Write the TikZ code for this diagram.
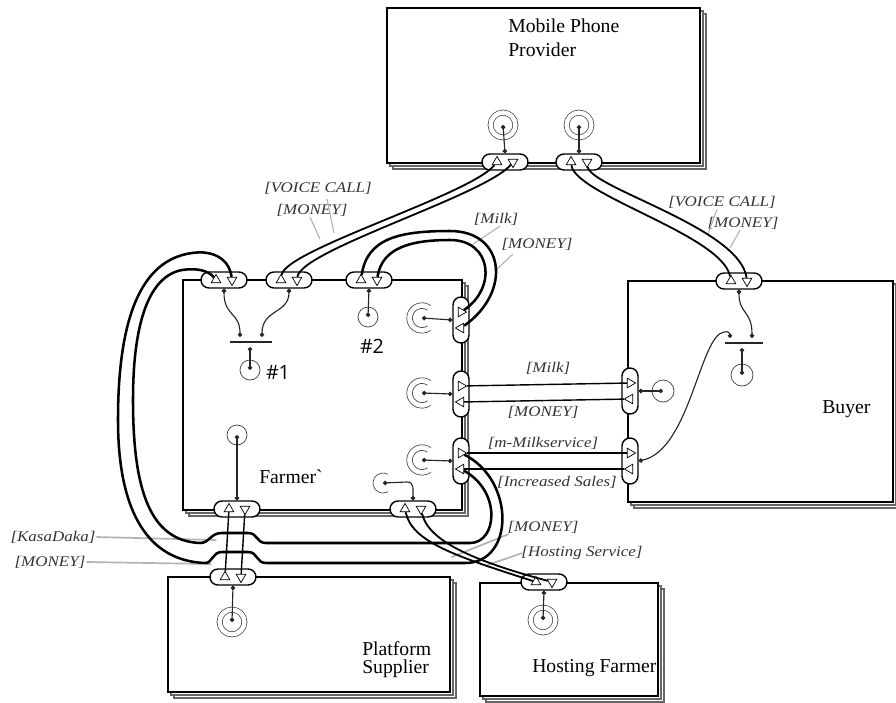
\documentclass[tikz,border=0pt]{standalone}
\usepackage{fontspec}
\setmainfont{Liberation Serif}
\newfontfamily\lblfont{Liberation Serif}[FakeStretch=1.15]
\newfontfamily\numfont{Open Sans}
\usetikzlibrary{arrows.meta,positioning,fit,shadows,shapes.geometric}

\begin{document}
\begin{tikzpicture}[
    x=0.25mm, y=-0.25mm,
    actor/.style={draw, line width=1.1pt, fill=white, inner sep=0pt,
      double copy shadow={shadow xshift=0.75mm, shadow yshift=-0.75mm,
        draw=black!60, line width=0.8pt, fill=white}},
    albl/.style={font=\fontsize{14}{16}\selectfont, inner sep=0pt},
    numl/.style={font=\numfont\fontsize{14}{16}\selectfont, inner sep=0pt},
    vl/.style={font=\lblfont\itshape\fontsize{10.5}{12}\selectfont, inner sep=0.5pt, text=black!80},
    iface/.style={draw, fill=white, line width=1pt, rounded corners=2mm,
      minimum width=11.5mm, minimum height=4mm, inner sep=0pt},
    vface/.style={iface, minimum width=4mm, minimum height=11.5mm},
    pup/.style={regular polygon, regular polygon sides=3, draw, fill=white,
      line width=0.5pt, minimum size=2.8mm, inner sep=0pt},
    pdn/.style={pup, shape border rotate=180},
    prt/.style={pup, shape border rotate=-90},
    plt/.style={pup, shape border rotate=90},
    stim/.style={circle, draw=black!75, line width=0.5pt, minimum size=5mm, inner sep=0pt},
    stimd/.style={stim, double=white, double distance=1.1mm, minimum size=6.2mm},
    hole/.style={circle, minimum size=5mm, inner sep=0pt},
    arcl/.style={draw=black!70, line width=0.5pt},
    andbar/.style={fill=black!85, minimum height=0.8pt, minimum width=10.5mm, inner sep=0pt},
    sl/.style={{Circle[length=1.1mm]}-{Circle[length=1.1mm]}, line width=0.8pt, draw=black!85},
    vt/.style={line width=1.3pt},
    vloop/.style={line width=1.8pt},
    ld/.style={draw=black!30, line width=0.8pt},
  ]
  \useasboundingbox (0,0) rectangle (896,703);

  \node[actor, fit={(387,8) (700,163)}] (mpp) {};
  \node[actor, fit={(183,280) (462,510)}] (farmer) {};
  \node[actor, fit={(628,281) (893,502)}] (buyer) {};
  \node[actor, fit={(168,577) (450,692)}] (supplier) {};
  \node[actor, fit={(480,583) (658,696)}] (hosting) {};

  \node[albl, anchor=base west] (mppl) at (508,32) {Mobile Phone};
  \node[albl, anchor=base west] (mppl2) at (508,56) {Provider};
  \node[albl, anchor=base west] (farmerl) at (259,483) {Farmer\textasciigrave};
  \node[albl, anchor=base west] (buyerl) at (822,413) {Buyer};
  \node[albl, anchor=base west] (supl) at (362,655) {Platform};
  \node[albl, anchor=base west] (supl2) at (362,673) {Supplier};
  \node[albl, anchor=base west] (hostl) at (532,672) {Hosting Farmer};

  \foreach \n/\x/\y in {mIa/505/162, mIb/579/162, fI1/224/280, fI2/289/280,
      fI3/369/280, fI7/237/509, fI8/413/509, bI1/739/281, sI/233/577, hI/544/582}{
    \node[iface] (\n) at (\x,\y) {};
    \node[pup, xshift=-2mm] (\n-u) at (\n) {};
    \node[pdn, xshift=2mm] (\n-d) at (\n) {};
  }
  \foreach \n/\x/\y in {fI4/461/320, fI5/461/394, fI6/461/461, bI2/630/391, bI3/630/461}{
    \node[vface] (\n) at (\x,\y) {};
    \node[prt, yshift=2mm] (\n-r) at (\n) {};
    \node[plt, yshift=-2mm] (\n-l) at (\n) {};
  }

  \node[stimd] (mS1) at (503,125) {};
  \node[stimd] (mS2) at (579,125) {};
  \node[stimd] (sS) at (232,622) {};
  \node[stimd] (hS) at (543,620) {};
  \node[stim] (fS1) at (250,370) {};
  \node[stim] (fS2) at (368,317) {};
  \node[stim] (fS3) at (237,435) {};
  \node[stim, minimum size=5.5mm] (bS) at (742,375) {};
  \node[stim, minimum size=5.5mm] (bE) at (663,391) {};
  \node[hole] (fE1) at (422,318) {};
  \node[hole] (fE2) at (422,393) {};
  \node[hole] (fE3) at (422,460) {};
  \node[hole] (fE4) at (383,483) {};
  \foreach \e in {fE1,fE2,fE3}{
    \draw[arcl] (\e.center) ++(55:3.8mm) arc[start angle=55, end angle=305, radius=3.8mm];
    \draw[arcl] (\e.center) ++(55:2.4mm) arc[start angle=55, end angle=305, radius=2.4mm];
  }
  \draw[arcl] (fE4.center) ++(60:2.5mm) arc[start angle=60, end angle=300, radius=2.5mm];

  \node[andbar] (fAnd) at (251,342) {};
  \node[andbar, minimum width=9.5mm] (bAnd) at (744,343) {};
  \coordinate (fA1) at (240,337);
  \coordinate (fA2) at (262,337);
  \coordinate (fA0) at (250,347);
  \coordinate (bA1) at (730,338);
  \coordinate (bA2) at (752,338);
  \coordinate (bA0) at (742,348);
  \node[numl] (n1) at (278,372) {\#1};
  \node[numl] (n2) at (372,346) {\#2};

  \node[vl] (lV1) at (318,188) {[VOICE CALL]};
  \node[vl] (lM1) at (312,210) {[MONEY]};
  \node[vl] (lV2) at (722,202) {[VOICE CALL]};
  \node[vl] (lM2) at (743,223) {[MONEY]};
  \node[vl] (lMk1) at (496,219) {[Milk]};
  \node[vl] (lM3) at (537,244) {[MONEY]};
  \node[vl] (lMk2) at (548,368) {[Milk]};
  \node[vl] (lM4) at (543,412) {[MONEY]};
  \node[vl] (lMS) at (543,443) {[m-Milkservice]};
  \node[vl] (lIS) at (557,482) {[Increased Sales]};
  \node[vl] (lKD) at (53,537) {[KasaDaka]};
  \node[vl] (lM5) at (50,562) {[MONEY]};
  \node[vl] (lM6) at (543,527) {[MONEY]};
  \node[vl] (lHS) at (582,553) {[Hosting Service]};

  \draw[ld] (lM1.south) ++(-2,0) -- ++(10,22);
  \draw[ld] (lV1.south) ++(9,4) -- ++(7,34);
  \draw[ld] (lV2.south) ++(-5,0) -- ++(-9,25);
  \draw[ld] (lM2.south) ++(-3,0) -- ++(-10,18);
  \draw[ld] (lMk1.south) ++(4,0) -- ++(-27,18);
  \draw[ld] (lM3.south) ++(-24,3) -- ++(-16,15);
  \draw[ld, line width=1.2pt] (lKD.east) -- ++(120,3);
  \draw[ld, line width=1.2pt] (lM5.east) -- ++(125,2);
  \draw[ld, line width=1.2pt] (lM6.south west) ++(2,0) -- ++(-57,23);
  \draw[ld, line width=1.2pt] (lHS.west) ++(2,0) -- ++(-35,12);

  \draw[vt] (fI2-u) .. controls (285,250) and (470,195) .. (mIa-u);
  \draw[vt] (fI2-d) .. controls (301,250) and (486,195) .. (mIa-d);
  \draw[vt] (mIb-u) .. controls (575,195) and (722,235) .. (bI1-u);
  \draw[vt] (mIb-d) .. controls (591,188) and (740,228) .. (bI1-d);
  \draw[vloop] (fI3-u) .. controls (367,238) and (400,231) .. (450,231)
    .. controls (505,231) and (512,292) .. (fI4-l);
  \draw[vloop] (fI3-d) .. controls (382,248) and (410,240) .. (450,240)
    .. controls (492,240) and (497,288) .. (fI4-r);
  \draw[vt, line width=1pt] (fI5-r) -- (bI2-r);
  \draw[vt, line width=1pt] (fI5-l) -- (bI2-l);
  \draw[vt, line width=1pt] (fI6-r) -- (bI3-r);
  \draw[vt, line width=1pt] (fI6-l) -- (bI3-l);
  \draw[vt, line width=1pt] (fI7-u) -- (sI-u);
  \draw[vt, line width=1pt] (fI7-d) -- (sI-d);
  \draw[vt] (fI8-u) .. controls (412,542) and (455,556) .. (hI-u);
  \draw[vt] (fI8-d) .. controls (428,540) and (470,560) .. (hI-d);
  \draw[vloop] (fI1-d) .. controls (229,258) and (212,250) .. (192,253)
    .. controls (140,260) and (118,320) .. (118,420)
    .. controls (118,515) and (150,561) .. (205,563)
    .. controls (213,563) and (212,552) .. (222,552) -- (248,552)
    .. controls (258,552) and (256,563) .. (266,563) -- (465,563)
    .. controls (515,563) and (515,480) .. (fI6-r);
  \draw[vloop] (fI1-u) .. controls (208,270) and (196,268) .. (182,270)
    .. controls (150,276) and (133,320) .. (133,400)
    .. controls (133,490) and (150,541) .. (200,543)
    .. controls (210,543) and (210,533) .. (222,533) -- (248,533)
    .. controls (258,533) and (256,543) .. (266,543) -- (470,543)
    .. controls (497,543) and (502,492) .. (fI6-l);

  \draw[sl] (mS1.center) -- (mIa.north);
  \draw[sl] (mS2.center) -- (mIb.north);
  \draw[sl] (fI1.south) .. controls +(0,28) and +(0,-25) .. (fA1);
  \draw[sl] (fI2.south) .. controls +(0,25) and +(0,-28) .. (fA2);
  \draw[sl] (fS1.center) -- (fA0);
  \draw[sl] (fS2.center) -- (fI3.south);
  \draw[sl] (fE1.center) -- (fI4.west);
  \draw[sl] (fE2.center) -- (fI5.west);
  \draw[sl] (fE3.center) -- (fI6.west);
  \draw[sl] (fS3.center) -- (fI7.north);
  \draw[sl] (fE4.center) -- +(24,-1) .. controls +(7,0) and +(0,-12) .. (fI8.north);
  \draw[sl] (bI1.south) .. controls +(0,25) and +(0,-28) .. (bA2);
  \draw[sl] (bS.center) -- (bA0);
  \draw[sl] (bI3.east) .. controls (690,450) and (700,335) .. (724,332)
    .. controls (728,331) and (730,333) .. (bA1);
  \draw[sl] (bI2.east) -- (bE.center);
  \draw[sl] (sS.center) -- (sI.south);
  \draw[sl] (hS.center) -- (hI.south);
\end{tikzpicture}
\end{document}
